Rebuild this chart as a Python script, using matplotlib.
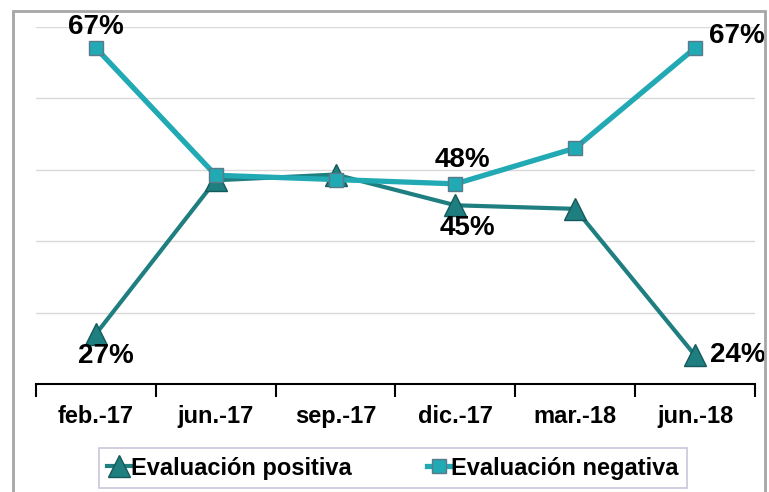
import matplotlib
matplotlib.use("Agg")
import matplotlib.pyplot as plt
from matplotlib.patches import Rectangle

plt.rcParams["font.family"] = ["Liberation Sans Narrow", "Liberation Sans", "DejaVu Sans"]

periodos = ["feb.-17", "jun.-17", "sep.-17", "dic.-17", "mar.-18", "jun.-18"]
positiva = [27, 48.5, 49.3, 45, 44.5, 24]
negativa = [67, 49.2, 48.6, 48, 53, 67]
# indices de los puntos con etiqueta
etiq_pos = [0, 3, 5]
etiq_neg = [0, 3, 5]

C_POS = "#1E7E80"
C_NEG = "#21A9B4"

fig = plt.figure(figsize=(7.69, 4.92), dpi=100)
ax = fig.add_axes([0.0468, 0.2195, 0.935, 0.7265])

x = list(range(len(periodos)))
ax.plot(x, positiva, color=C_POS, lw=3, marker="^", ms=16,
        mfc=C_POS, mec="#145A5C", mew=1, label="Evaluación positiva", zorder=3)
ax.plot(x, negativa, color=C_NEG, lw=3.8, marker="s", ms=10,
        mfc=C_NEG, mec="#5A7A8A", mew=1, label="Evaluación negativa", zorder=4)

ax.set_xlim(-0.5, 5.5)
ax.set_ylim(20, 70)
ax.set_yticks([30, 40, 50, 60, 70])
ax.yaxis.grid(True, color="#D9D9D9", lw=1)
ax.set_axisbelow(True)
ax.tick_params(axis="y", left=False, labelleft=False)
for s in ["left", "right", "top"]:
    ax.spines[s].set_visible(False)
ax.spines["bottom"].set_linewidth(1.5)

ax.set_xticks(x)
ax.set_xticklabels(periodos, fontsize=17, fontweight="bold")
ax.tick_params(axis="x", which="major", length=0, pad=15)
ax.set_xticks([i - 0.5 for i in range(len(periodos) + 1)], minor=True)
ax.tick_params(axis="x", which="minor", length=9, width=1.5, direction="out")

lbl = dict(fontsize=20, fontweight="bold", textcoords="offset points", va="center")
i = etiq_neg
ax.annotate(f"{negativa[i[0]]:.0f}%", (i[0], negativa[i[0]]), xytext=(0, 15), ha="center", **lbl)
ax.annotate(f"{negativa[i[1]]:.0f}%", (i[1], negativa[i[1]]), xytext=(5, 17), ha="center", **lbl)
ax.annotate(f"{negativa[i[2]]:.0f}%", (i[2], negativa[i[2]]), xytext=(10, 9), ha="left", **lbl)
i = etiq_pos
ax.annotate(f"{positiva[i[0]]:.0f}%", (i[0], positiva[i[0]]), xytext=(7, -16), ha="center", **lbl)
ax.annotate(f"{positiva[i[1]]:.0f}%", (i[1], positiva[i[1]]), xytext=(9, -16), ha="center", **lbl)
ax.annotate(f"{positiva[i[2]]:.0f}%", (i[2], positiva[i[2]]), xytext=(11, 0), ha="left", **lbl)

leg = fig.legend(loc="center", bbox_to_anchor=(393 / 769, 1 - 468 / 492), ncol=2,
                 prop={"size": 17, "weight": "bold"}, frameon=True, fancybox=False,
                 handlelength=1.0, handletextpad=0.0, columnspacing=3.2,
                 borderpad=0.35, borderaxespad=0, edgecolor="#BDB8D6")
leg.get_frame().set_linewidth(1.2)

fig.patches.append(Rectangle((13 / 769, -0.02), 752 / 769, 1.01 - 6 / 492 + 0.0,
                             transform=fig.transFigure, fill=False,
                             edgecolor="#A6A6A6", lw=2))

fig.savefig("out.png", dpi=100)
